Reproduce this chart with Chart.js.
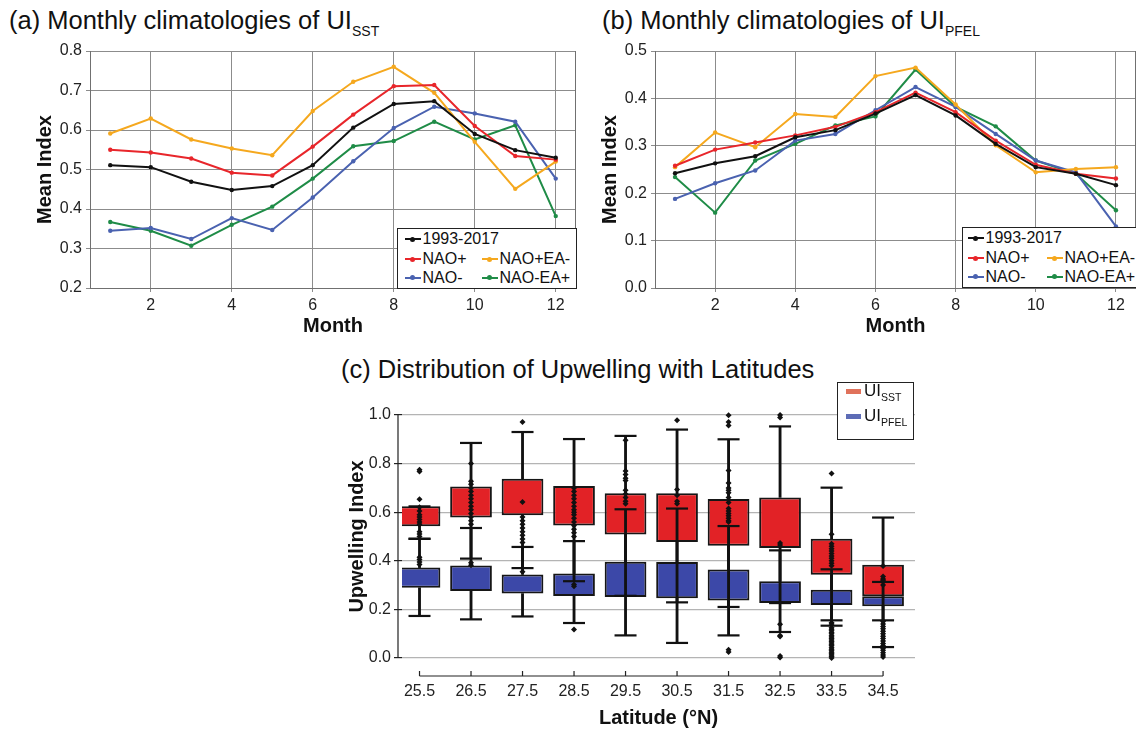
<!DOCTYPE html>
<html>
<head>
<meta charset="utf-8">
<script src="https://cdn.jsdelivr.net/npm/chart.js@4.4.1/dist/chart.umd.min.js"></script>
<style>
html, body { margin: 0; padding: 0; background: #fff; }
body { width: 1136px; height: 731px; overflow: hidden; position: relative; font-family: "Liberation Sans", Arial, sans-serif; color: #111; }
canvas { position: absolute; }
.ttl { position: absolute; font-size: 25.5px; line-height: 26px; white-space: nowrap; }
.ttl sub { font-size: 14px; vertical-align: -7px; line-height: 0; }
.lg { position: absolute; background: #fff; border: 1.5px solid #222; box-sizing: border-box; }
.it { position: absolute; height: 20px; display: flex; align-items: center; font-size: 16px; white-space: nowrap; }
.sw { position: relative; width: 16px; height: 2px; margin-right: 2px; }
.sw i { position: absolute; left: 5.5px; top: -1.5px; width: 5px; height: 5px; border-radius: 50%; background: inherit; }
.lc { position: absolute; left: 8px; height: 20px; display: flex; align-items: center; font-size: 17px; white-space: nowrap; }
.lc b { display: inline-block; width: 15px; height: 5px; margin-right: 3px; }
.lc sub { font-size: 10.5px; vertical-align: -5px; line-height: 0; }
</style>
</head>
<body>

<div class="ttl" style="left:9px;top:7px">(a) Monthly climatologies of UI<sub>SST</sub></div>
<div class="ttl" style="left:602px;top:7px">(b) Monthly climatologies of UI<sub>PFEL</sub></div>
<div class="ttl" style="left:341px;top:356px">(c) Distribution of Upwelling with Latitudes</div>

<canvas id="chartSst" width="600" height="345" style="left:0;top:0"></canvas>
<canvas id="chartPfel" width="550" height="345" style="left:590px;top:0"></canvas>
<canvas id="chartLat" width="600" height="361" style="left:330px;top:370px"></canvas>

<div class="lg" id="legendSst" style="left:397px;top:228px;width:180px;height:61px"></div>
<div class="lg" id="legendPfel" style="left:962px;top:227px;width:200px;height:61px"></div>
<div class="lg" style="left:837px;top:382px;width:77px;height:58px;border-width:1px">
  <div class="lc" style="top:-2px"><b style="background:#e0725b"></b><span>UI<sub>SST</sub></span></div>
  <div class="lc" style="top:23px"><b style="background:#5d6cb6"></b><span>UI<sub>PFEL</sub></span></div>
</div>

<script>
// === DATOS (a) y (b) ===
const months = [1, 2, 3, 4, 5, 6, 7, 8, 9, 10, 11, 12];
const monthTicks = [2, 4, 6, 8, 10, 12];
const seriesNames = ['1993-2017', 'NAO+', 'NAO+EA-', 'NAO-', 'NAO-EA+'];
const seriesColors = ['#111111', '#e8262b', '#f5a81e', '#4a62b0', '#1f8c47'];

const sstAll     = [0.511, 0.506, 0.469, 0.448, 0.458, 0.511, 0.606, 0.666, 0.673, 0.590, 0.549, 0.530];
const sstNaoP    = [0.550, 0.543, 0.528, 0.492, 0.485, 0.558, 0.639, 0.711, 0.714, 0.610, 0.534, 0.525];
const sstNaoPEaM = [0.591, 0.629, 0.576, 0.553, 0.536, 0.648, 0.722, 0.760, 0.694, 0.570, 0.451, 0.520];
const sstNaoM    = [0.345, 0.352, 0.324, 0.377, 0.347, 0.429, 0.521, 0.605, 0.659, 0.642, 0.621, 0.477];
const sstNaoMEaP = [0.367, 0.345, 0.307, 0.360, 0.406, 0.477, 0.559, 0.572, 0.621, 0.576, 0.612, 0.382];
const sstTicks = [0.2, 0.3, 0.4, 0.5, 0.6, 0.7, 0.8];

const pfelAll     = [0.242, 0.263, 0.278, 0.318, 0.333, 0.368, 0.407, 0.364, 0.304, 0.255, 0.241, 0.217];
const pfelNaoP    = [0.258, 0.292, 0.307, 0.322, 0.340, 0.371, 0.412, 0.371, 0.311, 0.260, 0.241, 0.231];
const pfelNaoPEaM = [0.255, 0.328, 0.297, 0.367, 0.361, 0.447, 0.465, 0.387, 0.301, 0.244, 0.251, 0.255];
const pfelNaoM    = [0.188, 0.221, 0.248, 0.311, 0.325, 0.375, 0.424, 0.382, 0.325, 0.269, 0.244, 0.130];
const pfelNaoMEaP = [0.234, 0.159, 0.269, 0.304, 0.343, 0.362, 0.461, 0.382, 0.341, 0.269, 0.241, 0.164];
const pfelTicks = [0.0, 0.1, 0.2, 0.3, 0.4, 0.5];

// === DATOS (c) ===
const lat = ['25.5', '26.5', '27.5', '28.5', '29.5', '30.5', '31.5', '32.5', '33.5', '34.5'];
const latTicks = [0.0, 0.2, 0.4, 0.6, 0.8, 1.0];
const sstQ1 = [0.542, 0.578, 0.587, 0.545, 0.508, 0.477, 0.462, 0.453, 0.343, 0.254];
const sstQ3 = [0.624, 0.706, 0.738, 0.708, 0.678, 0.678, 0.654, 0.661, 0.491, 0.384];
const sstLo = [0.490, 0.409, 0.370, 0.316, 0.256, 0.229, 0.210, 0.226, 0.133, 0.045];
const sstHi = [0.624, 0.885, 0.930, 0.901, 0.914, 0.940, 0.900, 0.953, 0.701, 0.578];
const pfelQ1 = [0.289, 0.276, 0.265, 0.255, 0.251, 0.246, 0.237, 0.226, 0.218, 0.213];
const pfelQ3 = [0.372, 0.381, 0.344, 0.348, 0.396, 0.395, 0.364, 0.316, 0.281, 0.254];
const pfelLo = [0.173, 0.159, 0.171, 0.144, 0.093, 0.062, 0.093, 0.107, 0.155, 0.155];
const pfelHi = [0.491, 0.535, 0.457, 0.481, 0.612, 0.615, 0.543, 0.443, 0.365, 0.313];
const sstOut = [
    [0.415, 0.405, 0.395, 0.385],
    [0.392, 0.382],
    [0.971, 0.355],
    [0.302, 0.295],
    [],
    [0.978],
    [0.999, 0.971, 0.957],
    [1.0, 0.99, 0.139, 0.093, 0.088, 0.008, 0.002],
    [0.759, 0.118, 0.105, 0.092, 0.080, 0.068, 0.055, 0.042, 0.030, 0.018, 0.006],
    [0.032, 0.022, 0.012, 0.004]
];
const pfelOut = [
    [0.775, 0.768, 0.653, 0.62, 0.605, 0.59, 0.58, 0.57, 0.56, 0.55, 0.52, 0.51, 0.50],
    [0.80, 0.727, 0.715, 0.70, 0.685, 0.67, 0.655, 0.64, 0.625, 0.61, 0.595, 0.58, 0.565, 0.55],
    [0.642, 0.58, 0.565, 0.55, 0.535, 0.52, 0.505, 0.49, 0.475],
    [0.70, 0.685, 0.67, 0.655, 0.64, 0.625, 0.61, 0.60, 0.59, 0.575, 0.56, 0.545, 0.53, 0.515, 0.50, 0.117],
    [0.896, 0.77, 0.755, 0.74, 0.73, 0.69, 0.675, 0.66, 0.645, 0.635],
    [0.693, 0.67, 0.645, 0.635],
    [0.772, 0.72, 0.70, 0.69, 0.68, 0.66, 0.64, 0.615, 0.605, 0.595, 0.585, 0.575, 0.565, 0.56, 0.034, 0.025],
    [0.473, 0.465],
    [0.509, 0.47, 0.46, 0.45, 0.44, 0.43, 0.42, 0.41, 0.40, 0.39, 0.38, 0.145, 0.14, 0.125, 0.112, 0.10, 0.086, 0.074, 0.062, 0.05, 0.036, 0.024, 0.012, 0.0],
    [0.379, 0.335, 0.325, 0.32, 0.30, 0.15, 0.14, 0.13, 0.12, 0.11, 0.10, 0.09, 0.08, 0.07, 0.06, 0.05, 0.04]
];

// leyenda: [fila, columna] de cada serie
const legendSlots = [[0, 0], [1, 0], [1, 1], [2, 0], [2, 1]];
const legendRowY = [10, 30, 48.5];

Chart.defaults.font.family = '"Liberation Sans", Arial, sans-serif';

// borde derecho del area de grafico
const frame = {
    id: 'frame',
    afterDatasetsDraw(chart) {
        const {ctx, chartArea} = chart;
        ctx.save();
        ctx.strokeStyle = '#707070';
        ctx.lineWidth = 1;
        ctx.beginPath();
        ctx.moveTo(chartArea.right - 0.5, chartArea.top);
        ctx.lineTo(chartArea.right - 0.5, chartArea.bottom);
        ctx.stroke();
        ctx.restore();
    }
};

function monthlyChart(canvasId, values, yTicks, yWidth, titlePad, padRight) {
    const datasets = values.map((vals, k) => ({
        label: seriesNames[k],
        data: months.map((m, i) => ({x: m, y: vals[i]})),
        borderColor: seriesColors[k],
        backgroundColor: seriesColors[k],
        borderWidth: 2,
        pointRadius: 2.2,
        pointBorderWidth: 0,
        tension: 0,
        order: k
    }));

    new Chart(document.getElementById(canvasId), {
        type: 'line',
        data: {datasets},
        options: {
            responsive: false,
            animation: false,
            events: [],
            layout: {padding: {left: 0, top: 51, right: padRight, bottom: 0}},
            plugins: {legend: {display: false}, tooltip: {enabled: false}},
            scales: {
                x: {
                    type: 'linear', min: 0.5, max: 12.5,
                    afterBuildTicks: s => { s.ticks = monthTicks.map(v => ({value: v})); },
                    afterFit: s => { s.height = 57; },
                    grid: {color: '#8c8c8c', tickLength: 4},
                    border: {color: '#707070'},
                    ticks: {color: '#222', font: {size: 16}, padding: 4, maxRotation: 0, autoSkip: false},
                    title: {display: true, text: 'Month', color: '#111', font: {size: 20, weight: 'bold'}, padding: {top: 0, bottom: 7}}
                },
                y: {
                    min: yTicks[0], max: yTicks[yTicks.length - 1],
                    afterBuildTicks: s => { s.ticks = yTicks.map(v => ({value: v})); },
                    afterFit: s => { s.width = yWidth; },
                    grid: {color: '#8c8c8c', tickLength: 4},
                    border: {color: '#707070'},
                    ticks: {color: '#222', font: {size: 16}, padding: 4, callback: v => v.toFixed(1)},
                    title: {display: true, text: 'Mean Index', color: '#111', font: {size: 20, weight: 'bold'}, padding: {top: titlePad, bottom: 0}}
                }
            }
        },
        plugins: [frame]
    });
}

function buildLegend(boxId, colX) {
    const box = document.getElementById(boxId);
    legendSlots.forEach(([row, col], k) => {
        const it = document.createElement('div');
        it.className = 'it';
        it.style.left = colX[col] + 'px';
        it.style.top = (legendRowY[row] - 10) + 'px';
        it.innerHTML = '<span class="sw" style="background:' + seriesColors[k] + '"><i></i></span>' + seriesNames[k];
        box.appendChild(it);
    });
}

// === GRAFICO (a) ===
monthlyChart('chartSst', [sstAll, sstNaoP, sstNaoPEaM, sstNaoM, sstNaoMEaP], sstTicks, 90, 33, 24);
buildLegend('legendSst', [6.5, 83.5]);

// === GRAFICO (b) ===
monthlyChart('chartPfel', [pfelAll, pfelNaoP, pfelNaoPEaM, pfelNaoM, pfelNaoMEaP], pfelTicks, 65, 8, 1);
buildLegend('legendPfel', [4.5, 83.5]);

// === GRAFICO (c) ===
const seg = (lo, hi) => lo.map((v, i) => ({x: i, y: [v, hi[i]]}));
const pts = arr => arr.map((v, i) => ({x: i, y: v}));
const outPts = lists => lists.flatMap((vals, i) => vals.map(v => ({x: i, y: v})));

const boxStyle = {type: 'bar', borderColor: '#161616', borderWidth: 2, borderSkipped: false,
    grouped: false, barPercentage: 0.81, categoryPercentage: 1};
const whiskerStyle = {type: 'bar', backgroundColor: '#111', borderWidth: 0, grouped: false, barThickness: 2.2, order: 3};

// ejes recortados (estilo despine)
const spines = {
    id: 'spines',
    afterDraw(chart) {
        const {ctx, chartArea, scales: {x, y}} = chart;
        ctx.save();
        ctx.strokeStyle = '#222';
        ctx.lineWidth = 1.2;
        ctx.beginPath();
        const sx = chartArea.left - 4;
        ctx.moveTo(sx, y.getPixelForValue(latTicks[0]));
        ctx.lineTo(sx, y.getPixelForValue(latTicks[latTicks.length - 1]));
        const by = chartArea.bottom + 18;
        ctx.moveTo(x.getPixelForValue(0), by);
        ctx.lineTo(x.getPixelForValue(lat.length - 1), by);
        lat.forEach((_, i) => {
            const px = x.getPixelForValue(i);
            ctx.moveTo(px, by);
            ctx.lineTo(px, by - 5);
        });
        ctx.stroke();
        ctx.restore();
    }
};

new Chart(document.getElementById('chartLat'), {
    type: 'bar',
    data: {
        datasets: [
            {...boxStyle, label: 'UI SST', data: seg(sstQ1, sstQ3), backgroundColor: '#e22226', order: 6},
            {...boxStyle, label: 'UI PFEL', data: seg(pfelQ1, pfelQ3), backgroundColor: '#3c48a8', order: 5},
            {...whiskerStyle, data: seg(sstQ3, sstHi)},
            {...whiskerStyle, data: seg(sstLo, sstQ1)},
            {...whiskerStyle, data: seg(pfelQ3, pfelHi)},
            {...whiskerStyle, data: seg(pfelLo, pfelQ1)},
            {type: 'scatter', data: [...pts(sstHi), ...pts(sstLo), ...pts(pfelHi), ...pts(pfelLo)],
             pointStyle: 'line', pointRadius: 11, pointBorderWidth: 2.2, borderColor: '#111', order: 2, clip: false},
            {type: 'scatter', data: [...outPts(sstOut), ...outPts(pfelOut)],
             pointStyle: 'rectRot', pointRadius: 3, pointBorderWidth: 0, backgroundColor: '#111', order: 1, clip: false}
        ]
    },
    options: {
        responsive: false,
        animation: false,
        events: [],
        layout: {padding: {left: 0, top: 45, right: 15, bottom: 0}},
        plugins: {legend: {display: false}, tooltip: {enabled: false}},
        scales: {
            x: {
                type: 'linear', min: -0.34, max: 9.62, offset: false,
                afterBuildTicks: s => { s.ticks = lat.map((_, i) => ({value: i})); },
                afterFit: s => { s.height = 73; },
                grid: {display: false, drawTicks: false},
                border: {display: false},
                ticks: {color: '#222', font: {size: 16}, padding: 24, maxRotation: 0, autoSkip: false,
                        callback: v => lat[v]},
                title: {display: true, text: 'Latitude (°N)', color: '#111', font: {size: 20, weight: 'bold'}, padding: {top: 0, bottom: 1}}
            },
            y: {
                min: latTicks[0], max: latTicks[latTicks.length - 1],
                afterBuildTicks: s => { s.ticks = latTicks.map(v => ({value: v})); },
                afterFit: s => { s.width = 72; },
                grid: {color: '#b4b4b4', lineWidth: 1.2, tickLength: 8, tickColor: '#222'},
                border: {display: false},
                ticks: {color: '#222', font: {size: 16}, padding: 3, callback: v => v.toFixed(1)},
                title: {display: true, text: 'Upwelling Index', color: '#111', font: {size: 20, weight: 'bold'}, padding: {top: 15, bottom: 0}}
            }
        }
    },
    plugins: [spines]
});
</script>
</body>
</html>
